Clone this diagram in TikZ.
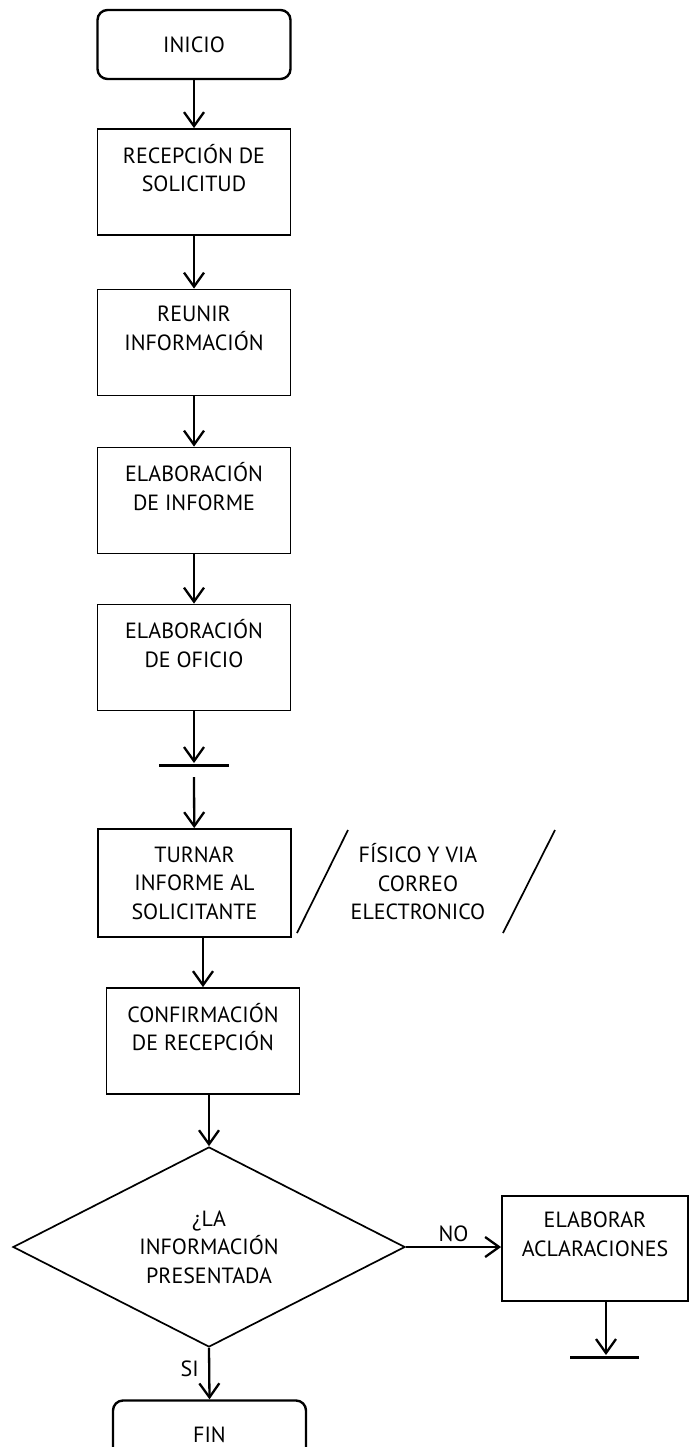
\documentclass[tikz,border=0pt]{standalone}
\usepackage{fontspec}
\setmainfont{PT Sans}
\usetikzlibrary{arrows.meta,shapes.geometric}

\begin{document}
\begin{tikzpicture}[x=1pt, y=-1pt, >={Straight Barb[length=14pt,width=20pt]}]

\tikzset{
    process/.style={
        draw, line width=1.8pt, rectangle,
        minimum width=193pt, minimum height=106pt,
        font=\fontsize{22}{28.5}\selectfont, align=center
    },
    terminal/.style={
        draw, line width=2.4pt, rectangle, rounded corners=10pt,
        minimum width=193pt, minimum height=69pt,
        font=\fontsize{22}{28.5}\selectfont
    },
    decision/.style={
        draw, line width=1.7pt, diamond, aspect=1.96, inner sep=0pt,
        minimum width=392pt, minimum height=200pt,
        font=\fontsize{22}{28.5}\selectfont, align=center
    },
    flow/.style={->, line width=2.3pt},
    endbar/.style={line width=3pt},
    note/.style={font=\fontsize{22}{28.5}\selectfont, align=center}
}

% Page frame
\useasboundingbox (0,0) rectangle (689,1447);

% MAIN COLUMN
\node[terminal] (inicio) at (194,44.5) {INICIO};
\node[process] (recepcion) at (194,182) {RECEPCIÓN DE\\SOLICITUD\\\mbox{}};
\node[process] (reunir) at (194,342.5) {REUNIR\\INFORMACIÓN\\\mbox{}};
\node[process] (informe) at (194,500.5) {ELABORACIÓN\\DE INFORME\\\mbox{}};
\node[process] (oficio) at (194,657.5) {ELABORACIÓN\\DE OFICIO\\\mbox{}};
\coordinate (bar1) at (194,765);
\node[process, minimum height=108pt] (turnar) at (194.5,883) {TURNAR\\INFORME AL\\SOLICITANTE};
\node[process] (confirmacion) at (203,1041) {CONFIRMACIÓN\\DE RECEPCIÓN\\\mbox{}};
\node[decision] (pregunta) at (209,1247) {¿LA\\INFORMACIÓN\\PRESENTADA};
\node[terminal] (fin) at (209.5,1435) {FIN};

% BRANCH
\node[process, minimum width=186pt, minimum height=105pt] (aclaraciones) at (595,1248.5) {ELABORAR\\ACLARACIONES\\\mbox{}};
\coordinate (bar2) at (606,1357);

% Delivery note
\node[note] (via) at (418,882) {FÍSICO Y VIA\\CORREO\\ELECTRONICO};
\draw[line width=1.7pt] (348,830) -- (297,933);
\draw[line width=1.7pt] (555,830) -- (503,933);

% End bars
\draw[endbar] ([xshift=-35pt]bar1) -- ([xshift=35pt]bar1);
\draw[endbar] ([xshift=-36pt]bar2) -- ([xshift=33pt]bar2);

% --- CONNECTORS ---
\draw[flow] (inicio) -- (recepcion);
\draw[flow] (recepcion) -- (reunir);
\draw[flow] (reunir) -- (informe);
\draw[flow] (informe) -- (oficio);
\draw[flow] (oficio) -- ([yshift=2pt]bar1);
\draw[flow] ([yshift=-12pt]bar1) -- (turnar);
\draw[flow] (turnar.south -| confirmacion.north) -- (confirmacion.north);
\draw[flow] (confirmacion.south -| pregunta.north) -- (pregunta.north);
\draw[flow] (pregunta.south) -- node[pos=0.4, left=6pt, note] (si) {SI} (fin.north);
\draw[flow] (pregunta.east) -- node[midway, above=1pt, note] (no) {NO} (pregunta.east -| aclaraciones.west);
\draw[flow] (aclaraciones.south -| bar2) -- ([yshift=2pt]bar2);

\end{tikzpicture}
\end{document}
